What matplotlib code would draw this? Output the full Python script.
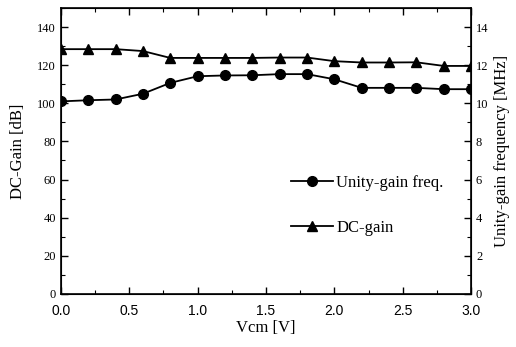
import numpy as np
import matplotlib.pyplot as plt
from matplotlib.ticker import MultipleLocator

vcm = [0.0, 0.2, 0.4, 0.6, 0.8, 1.0, 1.2, 1.4, 1.6, 1.8, 2.0, 2.2, 2.4, 2.6, 2.8, 3.0]
dc_gain = [128.4, 128.4, 128.4, 127.4, 123.8, 123.8, 123.8, 123.8, 124.0, 124.0,
           122.1, 121.4, 121.4, 121.5, 119.6, 119.6]
ugf = [10.10, 10.16, 10.20, 10.50, 11.07, 11.42, 11.46, 11.47, 11.53, 11.53,
       11.26, 10.81, 10.81, 10.81, 10.74, 10.74]

serif = 'Liberation Serif'
sans = 'Liberation Sans'

fig = plt.figure(figsize=(5.16, 3.47), dpi=100)
ax = fig.add_axes([0.118, 0.153, 0.795, 0.824])
ax2 = ax.twinx()

l1, = ax2.plot(vcm, ugf, 'k-', marker='o', ms=7, lw=1.3)
l2, = ax.plot(vcm, dc_gain, 'k-', marker='^', ms=7, lw=1.3)

ax.set_xlim(0, 3.0)
ax.set_ylim(0, 150)
ax2.set_ylim(0, 15)

ax.xaxis.set_major_locator(MultipleLocator(0.5))
ax.xaxis.set_minor_locator(MultipleLocator(0.25))
ax.yaxis.set_major_locator(MultipleLocator(20))
ax.yaxis.set_minor_locator(MultipleLocator(10))
ax2.yaxis.set_major_locator(MultipleLocator(2))
ax2.yaxis.set_minor_locator(MultipleLocator(1))

ax.tick_params(axis='x', which='both', direction='in', top=True)
ax.tick_params(axis='x', which='major', pad=7)
ax.tick_params(which='major', length=5, width=1)
ax.tick_params(which='minor', length=3, width=0.8)
ax.tick_params(axis='y', which='both', direction='in')
ax2.tick_params(which='both', direction='in')
ax2.tick_params(which='major', length=5, width=1)
ax2.tick_params(which='minor', length=3, width=0.8)

ax.set_xticks([0, 0.5, 1.0, 1.5, 2.0, 2.5, 3.0])
ax.set_xticklabels(['0.0', '0.5', '1.0', '1.5', '2.0', '2.5', '3.0'], fontfamily=sans, fontsize=10)
ax.set_yticks(range(0, 141, 20))
ax.set_yticklabels([str(v) for v in range(0, 141, 20)], fontfamily=serif, fontsize=9)
ax2.set_yticks(range(0, 15, 2))
ax2.set_yticklabels([str(v) for v in range(0, 15, 2)], fontfamily=serif, fontsize=9)

for s in ax.spines.values():
    s.set_linewidth(1.2)

ax.set_xlabel('Vcm [V]', fontfamily=serif, fontsize=12, labelpad=2)
ax.set_ylabel('DC-Gain [dB]', fontfamily=serif, fontsize=12, labelpad=8)
ax2.set_ylabel('Unity-gain frequency [MHz]', fontfamily=serif, fontsize=12, labelpad=4)

ax.legend([l1, l2], ['Unity-gain freq.', 'DC-gain'], loc='center left',
          bbox_to_anchor=(0.525, 0.31), frameon=False, handlelength=2.5,
          labelspacing=1.75, handletextpad=0.2, prop={'family': serif, 'size': 12})

fig.savefig('out.png', dpi=100)
